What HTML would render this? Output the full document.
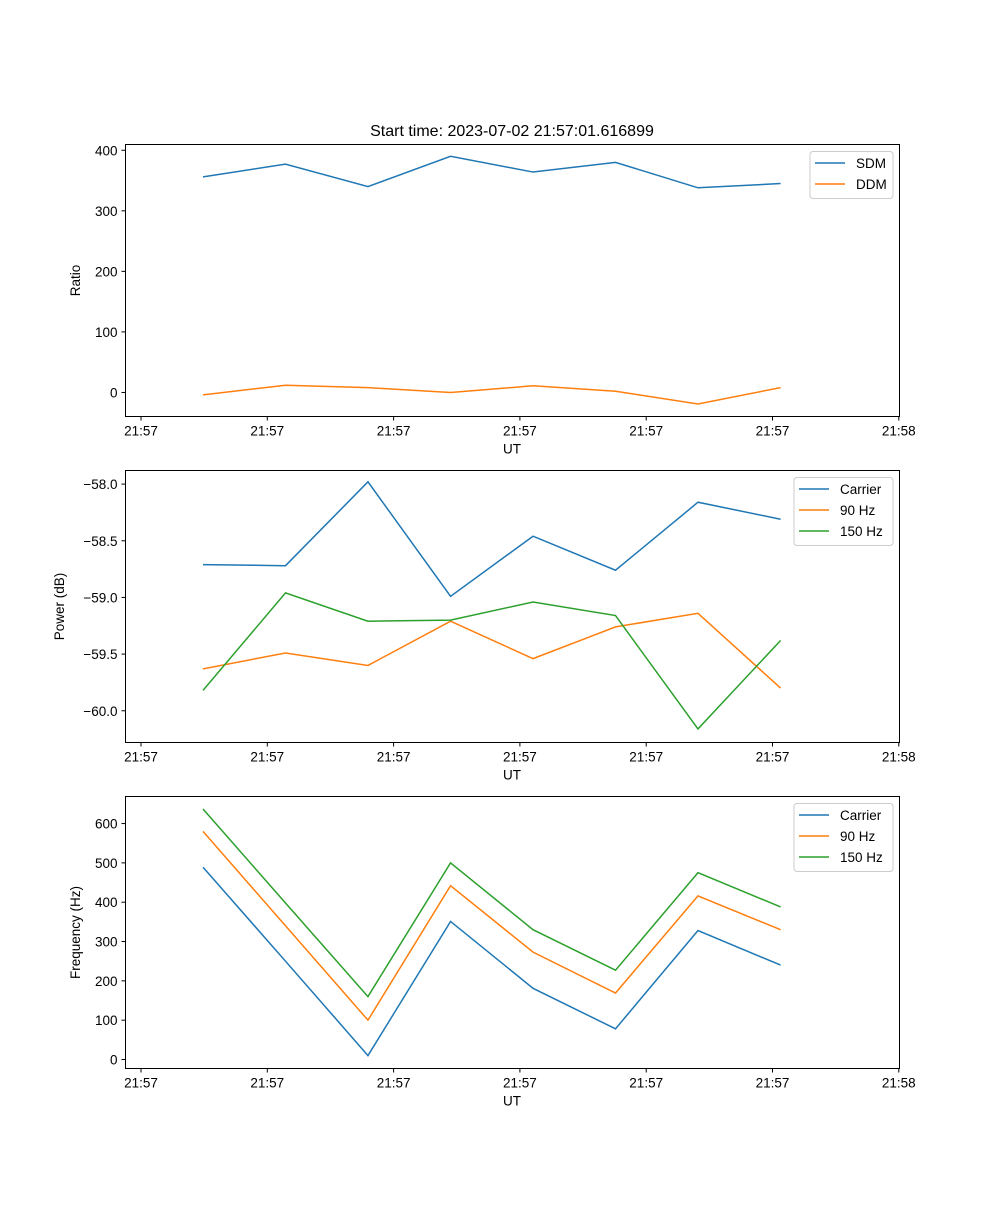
<!DOCTYPE html>
<html><head><meta charset="utf-8"><style>
body{margin:0;background:#fff}
svg text{font-family:"Liberation Sans","DejaVu Sans",sans-serif;fill:#000}
</style></head><body>
<svg id="fig" width="1000" height="1200" xmlns="http://www.w3.org/2000/svg">
<rect width="1000" height="1200" fill="#fff"/>
<text x="512" y="136" font-size="16" text-anchor="middle">Start time: 2023-07-02 21:57:01.616899</text>
</svg>
<script>
const xTickLabels = ["21:57","21:57","21:57","21:57","21:57","21:57","21:58"];
const xTicks = [0,1,2,3,4,5,6];
const xValues = [0.491,1.144,1.797,2.451,3.104,3.757,4.410,5.064];
const ratioTicks = [0,100,200,300,400];
const sdm = [356,377,340,390,364,380,338,345];
const ddm = [-4,12,8,0,11,2,-19,8];
const powerTicks = [-60.0,-59.5,-59.0,-58.5,-58.0];
const powerCarrier = [-58.71,-58.72,-57.98,-58.99,-58.46,-58.76,-58.16,-58.31];
const power90 = [-59.63,-59.49,-59.60,-59.21,-59.54,-59.26,-59.14,-59.80];
const power150 = [-59.82,-58.96,-59.21,-59.20,-59.04,-59.16,-60.16,-59.38];
const freqTicks = [0,100,200,300,400,500,600];
const freqCarrier = [489,250,10,351,181,78,328,240];
const freq90 = [580,340,100,442,273,169,416,330];
const freq150 = [637,398,160,500,330,227,475,388];

const NS="http://www.w3.org/2000/svg";
const svg=document.getElementById('fig');
function mk(tag,attrs,parent){const e=document.createElementNS(NS,tag);for(const k in attrs)e.setAttribute(k,attrs[k]);(parent||svg).appendChild(e);return e;}
const L=125.5,R=899.5;
const xMin=-0.127,xMax=6.01;
function xs(v){return 141+v*126.3;}

function panel(name,top,bottom,yMin,yMax,yTicks,fmt,series,ylabel,legend){
  const g=mk('g',{});
  
  
  const ys=v=>bottom-(v-yMin)/(yMax-yMin)*(bottom-top);
  series.forEach(s=>{
    const p=mk('polyline',{points:s.data.map((v,i)=>xs(xValues[i])+','+ys(v)).join(' '),fill:'none',stroke:s.color,'stroke-width':1.5},g);
    
    
  });
  const fr=mk('rect',{x:L,y:top,width:R-L,height:bottom-top,fill:'none',stroke:'#000','stroke-width':1},g);
  
  
  xTicks.forEach((t,i)=>{
    const x=xs(t);
    mk('line',{x1:x,y1:bottom,x2:x,y2:bottom+4,stroke:'#000'},g);
    const tx=mk('text',{x:x,y:bottom+19,'font-size':13.5,'text-anchor':'middle'},g);
    tx.textContent=xTickLabels[i];
    
    
  });
  yTicks.forEach(t=>{
    const y=ys(t);
    mk('line',{x1:L-4,y1:y,x2:L,y2:y,stroke:'#000'},g);
    const tx=mk('text',{x:L-8,y:y+5,'font-size':13.5,'text-anchor':'end'},g);
    tx.textContent=fmt(t);
    
    
  });
  const xl=mk('text',{x:512,y:bottom+37,'font-size':13.5,'text-anchor':'middle'},g);
  xl.textContent='UT';
  
  
  const cy=(top+bottom)/2;
  const yl=mk('text',{x:legend.ylx,y:cy,'font-size':13.5,'text-anchor':'middle',transform:'rotate(-90 '+legend.ylx+' '+cy+')'},g);
  yl.textContent=ylabel;
  
  
  const lg=mk('g',{},g);
  
  
  const h=series.length*21+5;
  mk('rect',{x:legend.x,y:top+7,width:893-legend.x,height:h,rx:3,fill:'#fff',stroke:'#ccc','fill-opacity':0.8},lg);
  series.forEach((s,i)=>{
    const y=top+18.5+i*21;
    mk('line',{x1:legend.x+5,y1:y,x2:legend.x+35,y2:y,stroke:s.color,'stroke-width':1.5},lg);
    const t=mk('text',{x:legend.x+46,y:y+5,'font-size':13.5},lg);
    t.textContent=s.label;
    
    
  });
}
const C1='#1f77b4',C2='#ff7f0e',C3='#2ca02c';
panel('ratio',144.5,416.5,-39.7,409.5,ratioTicks,v=>v<0?'\u2212'+(-v):String(v),
  [{key:'sdm',label:'SDM',color:C1,data:sdm},{key:'ddm',label:'DDM',color:C2,data:ddm}],'Ratio',{x:810,ylx:80});
panel('power',470.5,742.5,-60.28,-57.88,powerTicks,v=>'\u2212'+(-v).toFixed(1),
  [{key:'carrier',label:'Carrier',color:C1,data:powerCarrier},{key:'90hz',label:'90 Hz',color:C2,data:power90},{key:'150hz',label:'150 Hz',color:C3,data:power150}],'Power (dB)',{x:794,ylx:64});
panel('frequency',796.5,1068.5,-22.9,668.8,freqTicks,v=>String(v),
  [{key:'carrier',label:'Carrier',color:C1,data:freqCarrier},{key:'90hz',label:'90 Hz',color:C2,data:freq90},{key:'150hz',label:'150 Hz',color:C3,data:freq150}],'Frequency (Hz)',{x:794,ylx:80});
</script>
</body></html>
